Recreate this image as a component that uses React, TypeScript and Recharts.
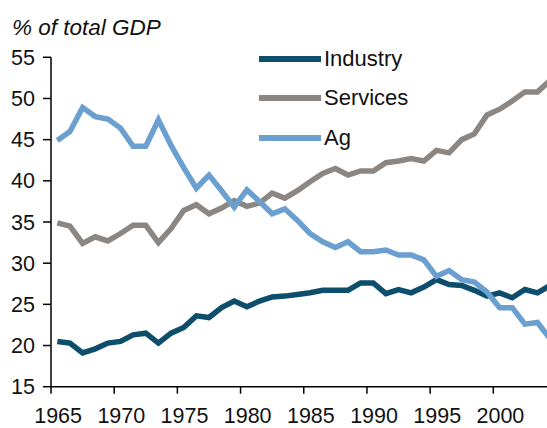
import React from 'react';
import { LineChart, Line, XAxis, YAxis, Legend } from 'recharts';

const years = [
  1965, 1966, 1967, 1968, 1969, 1970, 1971, 1972, 1973, 1974,
  1975, 1976, 1977, 1978, 1979, 1980, 1981, 1982, 1983, 1984,
  1985, 1986, 1987, 1988, 1989, 1990, 1991, 1992, 1993, 1994,
  1995, 1996, 1997, 1998, 1999, 2000, 2001, 2002, 2003, 2004,
];
const industry = [
  20.5, 20.3, 19.1, 19.6, 20.3, 20.5, 21.3, 21.5, 20.3, 21.5,
  22.2, 23.6, 23.4, 24.6, 25.4, 24.7, 25.4, 25.9, 26.0, 26.2,
  26.4, 26.7, 26.7, 26.7, 27.6, 27.6, 26.3, 26.8, 26.4, 27.1,
  28.0, 27.4, 27.3, 26.7, 26.0, 26.4, 25.8, 26.8, 26.4, 27.3,
];
const services = [
  34.9, 34.5, 32.4, 33.2, 32.7, 33.6, 34.6, 34.6, 32.5, 34.2,
  36.4, 37.1, 36.0, 36.7, 37.6, 36.9, 37.3, 38.5, 37.9, 38.8,
  39.9, 40.9, 41.5, 40.7, 41.2, 41.2, 42.2, 42.4, 42.7, 42.4,
  43.7, 43.4, 45.0, 45.7, 48.0, 48.7, 49.7, 50.8, 50.8, 52.2,
];
const ag = [
  44.9, 46.0, 48.9, 47.8, 47.5, 46.4, 44.2, 44.2, 47.4, 44.3,
  41.6, 39.1, 40.7, 38.8, 36.8, 38.9, 37.5, 36.0, 36.6, 35.2,
  33.6, 32.6, 31.9, 32.6, 31.4, 31.4, 31.6, 31.0, 31.0, 30.4,
  28.4, 29.1, 28.0, 27.7, 26.5, 24.6, 24.6, 22.6, 22.8, 20.8,
];
const xTickYears = [1965, 1970, 1975, 1980, 1985, 1990, 1995, 2000];
const yTicks = [15, 20, 25, 30, 35, 40, 45, 50, 55];
const seriesNames = ['Industry', 'Services', 'Ag'];
const seriesColors = ['#0C4E6C', '#8B8682', '#6A9FCF'];
const titleText = '% of total GDP';

const data = years.map((y, i) => ({
  year: y,
  Industry: industry[i],
  Services: services[i],
  Ag: ag[i],
}));

const FONT = '"Liberation Sans", Arial, sans-serif';
const CHART_W = 570;
const CHART_H = 428;
const LEFT = 51;
const TOP = 57.3;
const PLOT_W = 505.5;
const XAXIS_H = 41.3;
const HALF_YEAR = PLOT_W / 40 / 2;
const AXIS_Y = CHART_H - XAXIS_H;

const XTick = (props: any) => {
  const { x, payload } = props;
  const tx = x - HALF_YEAR;
  return (
    <g>
      <line x1={tx} x2={tx} y1={AXIS_Y} y2={AXIS_Y + 7} stroke="#000" strokeWidth={1.5} />
      <text x={x + 0.8} y={AXIS_Y + 21.2} dy="0.71em" textAnchor="middle" fontSize={21.5} fontFamily={FONT} fill="#111">
        {payload.value}
      </text>
    </g>
  );
};

const renderLegend = () => (
  <div style={{ display: 'flex', flexDirection: 'column', fontFamily: FONT }}>
    {seriesNames.map((n, i) => (
      <div key={n} style={{ height: 39.2, display: 'flex', alignItems: 'center' }}>
        <div style={{ width: 62, height: 6, background: seriesColors[i] }} />
        <span style={{ marginLeft: 3, fontSize: 22, color: '#111', lineHeight: '22px' }}>{n}</span>
      </div>
    ))}
  </div>
);

export default function App() {
  return (
    <div style={{ position: 'absolute', left: 0, top: 0, width: 547, height: 428, overflow: 'hidden', background: '#fff' }}>
      <div style={{ position: 'absolute', left: 12, top: 14.6, fontFamily: FONT, fontStyle: 'italic', fontSize: 22.5, color: '#111', lineHeight: 'normal', whiteSpace: 'nowrap' }}>
        {titleText}
      </div>
      <LineChart
        width={CHART_W}
        height={CHART_H}
        data={data}
        margin={{ top: TOP, right: CHART_W - LEFT - PLOT_W, bottom: 0, left: 0 }}
      >
        <XAxis
          dataKey="year"
          type="number"
          domain={[1964.5, 2004.5]}
          ticks={xTickYears}
          allowDataOverflow
          height={XAXIS_H}
          tickLine={false}
          tickSize={7}
          tickMargin={19}
          tick={<XTick />}
          axisLine={{ stroke: '#000', strokeWidth: 1.5 }}
          interval={0}
        />
        <YAxis
          type="number"
          domain={[15, 55]}
          ticks={yTicks}
          width={LEFT}
          tickSize={8}
          tickMargin={8}
          interval={0}
          axisLine={{ stroke: '#000', strokeWidth: 1.5 }}
          tickLine={{ stroke: '#000', strokeWidth: 1.5 }}
          tick={{ fontSize: 21.5, fontFamily: FONT, fill: '#111' }}
        />
        <Legend
          layout="vertical"
          align="center"
          verticalAlign="middle"
          content={renderLegend}
          wrapperStyle={{ position: 'absolute', left: 259, top: 39.7, width: 'auto' }}
        />
        {seriesNames.map((n, i) => (
          <Line
            key={n}
            type="linear"
            dataKey={n}
            stroke={seriesColors[i]}
            strokeWidth={5.5}
            dot={false}
            activeDot={false}
            isAnimationActive={false}
          />
        ))}
      </LineChart>
    </div>
  );
}
